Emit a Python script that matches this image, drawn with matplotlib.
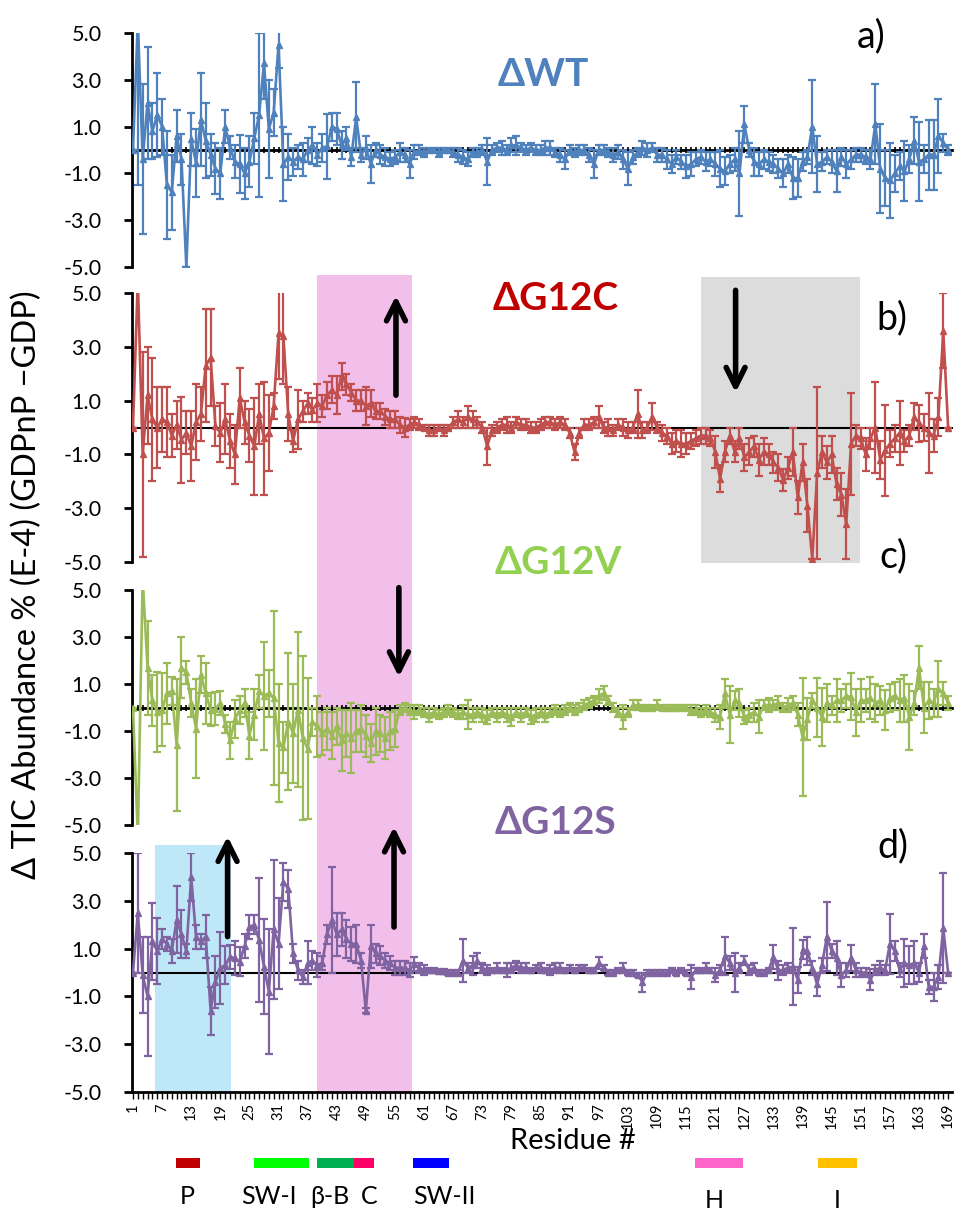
import numpy as np
import matplotlib
matplotlib.use('Agg')
import matplotlib.pyplot as plt
from matplotlib.patches import Rectangle
from matplotlib.transforms import blended_transform_factory

plt.rcParams['font.family'] = ['Lato', 'DejaVu Sans']
plt.rcParams['axes.unicode_minus'] = False

# ---------------- data ----------------
residues = np.arange(1, 170)
tick_residues = list(range(1, 170, 6))
ytick_values = [-5.0, -3.0, -1.0, 1.0, 3.0, 5.0]

wt_values = [
    0.0, 5.5, -0.4, 2.0, 0.8, 1.5, 1.0, -1.5, -1.8, 0.6,
    -0.4, -5.0, 0.45, -0.55, 1.3, 0.4, -0.2, -0.8, -1.0, 1.0,
    0.1, -0.5, -0.6, -1.0, -0.5, 0.5, 1.5, 3.7, 0.9, 1.6,
    4.5, -0.6, -0.3, -0.5, -0.3, -0.4, 0.0, 0.2, -0.2, 0.1,
    0.15, 1.0, 0.9, 0.2, 0.5, -0.3, 1.4, -0.2, 0.1, -0.6,
    0.0, -0.2, -0.3, -0.4, -0.3, -0.1, -0.2, -0.6, -0.1, 0.0,
    -0.1, 0.0, 0.0, -0.1, 0.0, 0.0, -0.1, -0.2, -0.3, -0.4,
    -0.1, -0.1, 0.0, -0.5, 0.0, 0.1, 0.1, 0.0, 0.2, 0.2,
    0.1, 0.0, 0.1, 0.0, 0.0, 0.1, 0.1, -0.1, -0.2, -0.4,
    0.0, -0.1, 0.0, 0.0, -0.2, -0.6, 0.0, 0.0, -0.1, -0.2,
    -0.1, -0.4, -0.8, -0.3, -0.1, 0.1, 0.0, 0.1, -0.2, -0.2,
    -0.4, -0.6, -0.3, -0.5, -0.7, -0.6, -0.4, -0.3, -0.5, -0.4,
    -0.6, -0.8, -0.9, -0.6, -0.4, -1.0, 1.1, 0.0, -0.5, -0.6,
    -0.4, -0.5, -0.6, -0.8, -1.0, -0.6, -1.2, -1.2, -0.5, -0.3,
    1.0, -0.6, -0.5, -0.3, -0.5, -0.9, -0.3, -0.6, -0.4, -0.2,
    -0.2, -0.3, -0.4, 1.1, -0.8, -1.2, -1.3, -1.0, -0.7, -0.9,
    -0.4, 0.4, -0.5, -0.4, -0.2, -0.2, 0.6, 0.3, 0.0]
wt_errors = [
    0.0, 7.0, 3.2, 2.4, 1.2, 1.8, 1.2, 2.3, 1.6, 1.1,
    1.1, 0.0, 1.15, 1.45, 2.0, 1.6, 0.9, 1.1, 1.1, 0.7,
    0.5, 0.7, 1.25, 1.1, 1.1, 1.1, 3.5, 1.5, 2.1, 1.0,
    1.0, 1.6, 1.0, 0.6, 0.5, 0.7, 0.5, 0.8, 0.5, 0.6,
    1.4, 0.6, 0.7, 0.6, 0.5, 0.4, 1.5, 0.3, 0.5, 0.8,
    0.3, 0.4, 0.4, 0.3, 0.3, 0.4, 0.3, 0.6, 0.3, 0.2,
    0.2, 0.1, 0.1, 0.2, 0.1, 0.1, 0.2, 0.3, 0.3, 0.3,
    0.2, 0.2, 0.2, 1.0, 0.2, 0.2, 0.3, 0.2, 0.3, 0.4,
    0.2, 0.2, 0.2, 0.2, 0.2, 0.3, 0.3, 0.2, 0.3, 0.4,
    0.2, 0.2, 0.2, 0.2, 0.3, 0.6, 0.2, 0.2, 0.2, 0.3,
    0.3, 0.4, 0.7, 0.3, 0.2, 0.3, 0.3, 0.2, 0.3, 0.3,
    0.4, 0.4, 0.3, 0.3, 0.5, 0.5, 0.3, 0.3, 0.4, 0.3,
    0.5, 0.8, 0.6, 0.4, 0.5, 1.8, 0.8, 0.3, 0.6, 0.5,
    0.4, 0.4, 0.4, 0.4, 0.6, 0.4, 0.9, 0.8, 0.4, 0.3,
    2.0, 1.2, 0.4, 0.3, 0.5, 0.9, 0.4, 0.6, 0.4, 0.3,
    0.3, 0.3, 0.4, 1.7, 1.9, 1.2, 1.6, 0.8, 0.6, 1.3,
    0.6, 1.0, 1.7, 0.6, 1.5, 1.5, 1.6, 0.4, 0.2]

g12c_values = [
    0.0, 5.5, -1.0, 1.2, 0.3, 0.0, 0.3, 0.2, -0.3, 0.1,
    -0.45, -0.2, -0.7, 0.2, 0.5, 2.3, 2.6, 0.05, -0.2, 0.3,
    -0.5, -1.0, 1.1, 0.2, -0.3, -0.7, 0.5, -0.4, -0.2, 0.8,
    3.5, 3.4, 0.5, -0.5, 0.3, 0.6, 0.9, 0.65, 0.9, 0.8,
    1.2, 1.4, 1.2, 1.9, 1.6, 1.3, 1.0, 1.0, 0.8, 0.9,
    0.6, 0.6, 0.4, 0.3, 0.3, 0.1, 0.0, 0.1, 0.2, 0.1,
    0.0, -0.1, -0.1, 0.0, -0.1, 0.0, 0.2, 0.3, 0.2, 0.4,
    0.3, 0.2, 0.0, -0.7, -0.1, 0.0, 0.1, 0.1, 0.0, 0.2,
    0.1, 0.1, 0.0, 0.0, 0.1, 0.2, 0.2, 0.1, 0.2, 0.1,
    -0.2, -0.9, -0.2, 0.1, 0.1, 0.2, 0.4, 0.0, 0.0, -0.1,
    0.1, 0.0, -0.1, 0.0, 0.5, -0.1, 0.0, 0.4, 0.0, -0.2,
    -0.3, -0.6, -0.5, -0.6, -0.6, -0.5, -0.4, -0.3, -0.3, -0.4,
    -0.9, -1.9, -0.9, -0.3, -0.9, -0.4, -1.1, -0.9, -0.7, -1.2,
    -0.9, -1.0, -1.3, -1.5, -1.95, -1.5, -0.9, -2.6, -1.3, -2.9,
    -4.9, -1.7, -0.9, -1.3, -1.0, -2.1, -2.5, -3.6, -0.6, -0.3,
    -0.4, -1.0, -0.4, 0.0, -1.2, -0.85, -0.6, -0.4, -0.2, -0.5,
    -0.3, 0.4, 0.15, 0.0, -0.2, -0.3, 0.4, 3.6, 0.0]
g12c_errors = [
    0.0, 0.0, 3.8, 1.8, 2.3, 1.5, 1.2, 1.3, 0.8, 0.9,
    1.6, 0.8, 1.3, 1.4, 1.0, 2.1, 1.8, 0.75, 1.1, 1.3,
    1.0, 1.1, 1.1, 0.8, 1.0, 1.8, 1.1, 2.1, 1.4, 0.5,
    1.7, 1.8, 1.0, 0.4, 1.1, 0.4, 0.4, 0.45, 0.7, 0.4,
    0.5, 0.5, 0.7, 0.5, 0.4, 0.3, 0.4, 0.4, 0.7, 0.5,
    0.3, 0.3, 0.3, 0.3, 0.3, 0.3, 0.35, 0.2, 0.2, 0.2,
    0.1, 0.2, 0.2, 0.1, 0.2, 0.1, 0.2, 0.3, 0.2, 0.4,
    0.3, 0.2, 0.2, 0.7, 0.2, 0.2, 0.2, 0.3, 0.2, 0.2,
    0.2, 0.2, 0.2, 0.2, 0.2, 0.2, 0.2, 0.2, 0.2, 0.2,
    0.2, 0.3, 0.2, 0.2, 0.2, 0.2, 0.4, 0.2, 0.3, 0.2,
    0.2, 0.3, 0.3, 0.2, 0.9, 0.3, 0.2, 0.5, 0.2, 0.3,
    0.3, 0.4, 0.4, 0.5, 0.4, 0.3, 0.3, 0.3, 0.3, 0.3,
    0.6, 0.5, 0.4, 0.3, 0.4, 0.4, 0.5, 0.5, 0.4, 0.6,
    0.5, 0.4, 0.4, 0.5, 0.4, 0.4, 0.9, 0.6, 0.7, 1.0,
    0.0, 3.2, 0.6, 0.6, 0.7, 0.6, 0.8, 1.3, 1.9, 0.4,
    0.4, 0.6, 0.4, 1.7, 0.7, 1.7, 0.5, 0.5, 1.2, 0.4,
    0.4, 0.5, 0.7, 0.5, 1.5, 0.6, 0.7, 1.4, 0.0]

g12v_values = [
    0.0, -5.5, 5.5, 1.7, 0.3, -0.2, -0.1, 0.6, 0.7, -1.6,
    1.7, 1.5, 0.2, -0.9, 1.4, 0.6, -0.1, -0.05, 0.2, -0.7,
    -1.4, -0.5, -0.1, 0.2, -1.2, -0.3, 0.7, 0.5, 0.6, 0.4,
    -1.5, -1.7, -0.6, -1.1, -0.1, -1.3, -1.75, -0.6, -0.8, -1.1,
    -0.9, -1.2, -0.8, -1.4, -1.1, -1.3, -1.0, -0.9, -1.2, -1.5,
    -1.0, -1.1, -1.3, -1.0, -0.9, -0.1, 0.0, -0.1, -0.2, -0.1,
    -0.2, -0.3, -0.2, -0.3, -0.2, -0.1, -0.2, -0.3, -0.2, -0.3,
    -0.3, -0.2, -0.3, -0.4, -0.2, -0.3, -0.2, -0.3, -0.4, -0.2,
    -0.3, -0.2, -0.4, -0.3, -0.2, -0.3, -0.2, -0.1, -0.2, -0.1,
    0.0, -0.1, 0.0, 0.1, 0.2, 0.3, 0.5, 0.6, 0.3, 0.0,
    -0.2, -0.4, -0.2, 0.1, 0.1, 0.0, 0.0, 0.0, 0.1, 0.0,
    0.0, 0.0, 0.0, 0.0, 0.0, -0.1, -0.1, -0.2, -0.1, -0.2,
    -0.3, -0.4, 0.6, -0.3, 0.3, 0.2, -0.4, -0.3, -0.2, -0.4,
    0.1, 0.1, 0.1, 0.2, 0.0, 0.1, 0.2, -0.3, -1.25, -0.5,
    0.3, 0.0, -0.4, 0.2, 0.1, 0.3, 0.3, 0.5, 0.45, -0.2,
    0.3, 0.3, 0.4, 0.2, 0.3, -0.1, 0.4, 0.5, 0.3, 0.4,
    -0.4, 0.2, 1.7, 0.0, 0.3, 0.2, 0.8, 0.6, 0.2]
g12v_errors = [
    0.0, 0.0, 0.0, 2.0, 1.1, 1.7, 1.55, 1.3, 0.6, 2.8,
    1.3, 0.5, 0.6, 2.1, 0.8, 1.3, 0.7, 0.7, 0.5, 0.4,
    0.8, 0.8, 0.6, 0.6, 1.0, 1.1, 0.7, 2.3, 1.0, 3.7,
    2.5, 1.1, 2.9, 2.1, 3.3, 3.5, 3.0, 0.6, 1.3, 0.9,
    0.9, 1.0, 0.8, 1.3, 1.0, 1.5, 0.9, 1.0, 0.9, 0.8,
    1.0, 0.8, 0.9, 0.8, 0.8, 0.2, 0.2, 0.2, 0.3, 0.2,
    0.2, 0.3, 0.2, 0.2, 0.2, 0.2, 0.2, 0.2, 0.3, 0.6,
    0.3, 0.2, 0.3, 0.3, 0.2, 0.3, 0.2, 0.3, 0.4, 0.2,
    0.3, 0.2, 0.3, 0.3, 0.2, 0.3, 0.2, 0.2, 0.2, 0.2,
    0.2, 0.2, 0.2, 0.2, 0.2, 0.2, 0.3, 0.3, 0.2, 0.2,
    0.2, 0.5, 0.2, 0.2, 0.2, 0.1, 0.1, 0.1, 0.2, 0.1,
    0.1, 0.1, 0.1, 0.1, 0.1, 0.2, 0.2, 0.2, 0.2, 0.2,
    0.3, 0.5, 0.6, 1.2, 0.4, 0.6, 0.3, 0.3, 0.4, 0.7,
    0.2, 0.3, 0.2, 0.3, 0.2, 0.3, 0.3, 0.5, 2.5, 0.9,
    0.3, 1.25, 1.25, 0.8, 0.4, 0.9, 0.5, 0.5, 1.0, 1.0,
    0.9, 0.5, 0.9, 0.8, 0.6, 0.85, 0.6, 0.6, 0.9, 1.0,
    1.4, 0.5, 0.9, 1.1, 0.8, 0.6, 1.2, 0.5, 0.3]

g12s_values = [
    0.0, 2.5, -0.1, -1.0, 1.3, 0.9, 1.4, 1.2, 0.9, 2.2,
    1.6, 0.9, 4.0, 1.5, 1.3, 1.5, -1.6, -0.4, 0.2, 0.3,
    0.65, 0.6, 0.45, 1.1, 1.9, 2.0, 1.35, 0.25, -0.8, 1.8,
    1.2, 3.8, 3.5, 0.8, 0.1, -0.2, 0.4, 0.5, 0.3, 0.4,
    1.6, 2.2, 1.6, 1.8, 1.4, 1.2, 1.2, 0.5, -1.6, 1.1,
    0.8, 0.7, 0.5, 0.4, 0.2, 0.2, 0.2, 0.1, 0.35, 0.2,
    0.1, 0.1, 0.1, 0.05, 0.05, 0.0, 0.0, 0.0, 0.5, 0.2,
    0.3, 0.5, 0.2, 0.1, 0.1, 0.2, 0.1, 0.1, 0.2, 0.3,
    0.2, 0.2, 0.1, 0.2, 0.2, 0.1, 0.1, 0.2, 0.2, 0.1,
    0.2, 0.1, 0.2, 0.2, 0.1, 0.1, 0.4, 0.2, 0.0, 0.0,
    0.1, 0.2, 0.0, 0.0, -0.1, -0.4, 0.0, 0.0, 0.0, 0.0,
    0.0, 0.1, 0.0, 0.1, 0.0, -0.2, 0.1, 0.1, 0.2, 0.1,
    -0.1, 0.1, 0.7, 0.4, 0.0, 0.2, 0.5, 0.1, 0.2, 0.0,
    0.0, 0.1, 0.65, 0.1, 0.1, 0.2, 0.25, -0.3, 0.95, 0.9,
    0.2, -0.5, 0.3, 1.5, 0.9, 0.6, -0.1, 0.1, 0.6, 0.1,
    0.0, 0.0, -0.3, 0.1, 0.2, 0.1, 1.2, 0.9, 0.1, 0.4,
    0.3, 0.4, 0.0, 1.1, -0.6, -0.6, -0.2, 1.85, 0.0]
g12s_errors = [
    0.0, 2.5, 1.6, 2.5, 1.6, 1.4, 0.4, 0.3, 0.5, 1.4,
    1.0, 0.3, 1.0, 0.5, 0.3, 0.9, 1.0, 1.1, 1.5, 0.8,
    0.5, 0.7, 0.6, 0.5, 0.5, 0.4, 2.6, 2.0, 2.6, 2.9,
    1.9, 0.8, 0.8, 0.4, 0.4, 0.3, 0.9, 0.4, 0.5, 0.3,
    0.4, 2.2, 0.9, 0.7, 0.8, 0.7, 0.8, 0.3, 0.1, 0.9,
    0.4, 0.4, 0.3, 0.3, 0.3, 0.3, 0.3, 0.3, 0.3, 0.2,
    0.2, 0.1, 0.1, 0.1, 0.1, 0.1, 0.1, 0.1, 0.9, 0.2,
    0.4, 0.3, 0.2, 0.2, 0.1, 0.2, 0.1, 0.3, 0.2, 0.2,
    0.2, 0.2, 0.1, 0.1, 0.2, 0.1, 0.2, 0.2, 0.2, 0.1,
    0.1, 0.1, 0.1, 0.1, 0.1, 0.1, 0.25, 0.1, 0.1, 0.1,
    0.1, 0.2, 0.1, 0.1, 0.1, 0.4, 0.1, 0.1, 0.1, 0.1,
    0.1, 0.1, 0.1, 0.1, 0.1, 0.5, 0.1, 0.1, 0.2, 0.1,
    0.3, 0.2, 0.8, 0.3, 0.8, 0.2, 0.2, 0.2, 0.2, 0.1,
    0.1, 0.1, 0.5, 0.4, 0.2, 0.2, 1.6, 0.55, 0.4, 0.6,
    0.3, 0.5, 0.3, 1.45, 0.3, 0.7, 0.5, 0.3, 0.55, 0.3,
    0.2, 0.2, 0.45, 0.2, 0.3, 0.2, 1.25, 0.4, 0.3, 1.0,
    0.8, 0.9, 0.4, 0.5, 0.3, 0.6, 0.5, 2.3, 0.0]

series_names = ['\u0394WT', '\u0394G12C', '\u0394G12V', '\u0394G12S']
panel_letters = ['a)', 'b)', 'c)', 'd)']
series_values = [wt_values, g12c_values, g12v_values, g12s_values]
series_errors = [wt_errors, g12c_errors, g12v_errors, g12s_errors]

# structural regions (residue ranges) shown under the axis
region_names = ['P', 'SW-I', '\u03b2-B', 'C', 'SW-II', 'H', 'I']
region_start = [9.8, 26.0, 39.0, 46.6, 58.7, 116.8, 142.1]
region_end = [14.8, 37.3, 46.6, 50.7, 66.1, 126.7, 150.3]

# ---------------- styling ----------------
line_colors = ['#4F81BD', '#C0504D', '#9BBB59', '#8064A2']
title_colors = ['#4F81BD', '#C00000', '#92D050', '#8064A2']
region_colors = ['#C00000', '#00FF00', '#00B050', '#FF0066', '#0000FF', '#FF66CC', '#FFC000']

W, H = 955, 1213
fig = plt.figure(figsize=(W / 100, H / 100), dpi=100)


def fx(p):
    return p / W


def fy(p):
    return 1 - p / H


panel_px = [(33, 267), (293, 562), (590, 825), (853, 1092)]
ax_left, ax_right = 132, 952
axes = []
for top, bot in panel_px:
    ax = fig.add_axes([fx(ax_left), fy(bot), fx(ax_right - ax_left), (bot - top) / H])
    axes.append(ax)

for i, ax in enumerate(axes):
    ax.set_facecolor('none')
    ax.set_xlim(0.8, 169.8)
    ax.set_ylim(-5, 5)
    ax.spines['top'].set_visible(False)
    ax.spines['right'].set_visible(False)
    ax.spines['left'].set_linewidth(2)
    ax.set_yticks(ytick_values)
    ax.set_yticklabels([f'{v:.1f}' for v in ytick_values], fontsize=15.5)
    ax.tick_params(axis='y', direction='out', length=6, width=2, pad=16)

    ax.errorbar(residues, series_values[i], yerr=series_errors[i],
                color=line_colors[i], lw=1.9, marker='^', ms=4.5,
                capsize=3.2, elinewidth=1.6, capthick=1.6, zorder=3)

    if i in (0, 2):
        ax.spines['bottom'].set_position(('data', 0))
        ax.spines['bottom'].set_linewidth(2)
        ax.set_xticks(residues)
        ax.tick_params(axis='x', direction='inout', length=5, width=1.2,
                       labelbottom=False)
    elif i == 1:
        ax.spines['bottom'].set_position(('data', 0))
        ax.spines['bottom'].set_linewidth(1.5)
        ax.set_xticks([])
    else:
        ax.spines['bottom'].set_linewidth(2)
        ax.axhline(0, color='black', lw=1.5, zorder=1)
        ax.set_xticks(tick_residues)
        ax.set_xticklabels([str(t) for t in tick_residues], rotation=90, fontsize=10.5)
        ax.set_xticks(residues, minor=True)
        ax.tick_params(axis='x', which='both', direction='out', length=5, width=1, pad=3)

ax_d = axes[3]
bt = blended_transform_factory(ax_d.transData, fig.transFigure)

# background highlight bands spanning panels
bands = [(39.0, 58.5, 275, 1093, '#F2BEEA'),
         (5.5, 21.3, 845, 1093, '#BEE8F8'),
         (118.0, 150.9, 277, 563, '#DCDCDC')]
for x0, x1, ptop, pbot, col in bands:
    fig.add_artist(Rectangle((x0, fy(pbot)), x1 - x0, (pbot - ptop) / H,
                             transform=bt, facecolor=col, edgecolor='none', zorder=-1))

# arrows: (panel, residue, tail value, head value)
arrows = [(1, 55.2, 1.2, 4.9), (1, 125.2, 5.1, 1.3), (2, 55.8, 5.1, 1.3),
          (3, 20.5, 1.5, 5.7), (3, 54.8, 1.9, 6.1)]
for p, r, y0, y1 in arrows:
    axes[p].annotate('', xy=(r, y1), xytext=(r, y0), annotation_clip=False,
                     arrowprops=dict(arrowstyle='->', lw=4, color='black',
                                     mutation_scale=34, shrinkA=0, shrinkB=0),
                     zorder=6)

# series titles and panel letters
title_pos = [(543, 75), (556, 299), (558, 562), (555, 822)]
letter_pos = [(871, 36), (892, 318), (893, 556), (893, 846)]
for i in range(4):
    fig.text(fx(title_pos[i][0]), fy(title_pos[i][1]), series_names[i], color=title_colors[i],
             fontsize=28, fontweight='bold', ha='center', va='center')
    fig.text(fx(letter_pos[i][0]), fy(letter_pos[i][1]), panel_letters[i], color='black',
             fontsize=27, ha='center', va='center')

fig.text(fx(27), fy(585), '\u0394 TIC Abundance % (E-4) (GDPnP \u2212GDP)', rotation=90,
         fontsize=23.5, ha='center', va='center')
fig.text(fx(573), fy(1141), 'Residue #', fontsize=21, ha='center', va='center')

# region bars and labels
label_y = [1196, 1196, 1196, 1196, 1196, 1200, 1200]
label_x = [12.1, 29.1, 41.5, 49.7, 65.1, 120.9, 146.2]
for name, s, e, col, lx, ly in zip(region_names, region_start, region_end, region_colors,
                                   label_x, label_y):
    fig.add_artist(Rectangle((s, fy(1168)), e - s, 10 / H, transform=bt,
                             facecolor=col, edgecolor='none'))
    fig.text(lx, fy(ly), name, transform=bt, fontsize=18, ha='center', va='center')

fig.savefig('out.png', dpi=100)
